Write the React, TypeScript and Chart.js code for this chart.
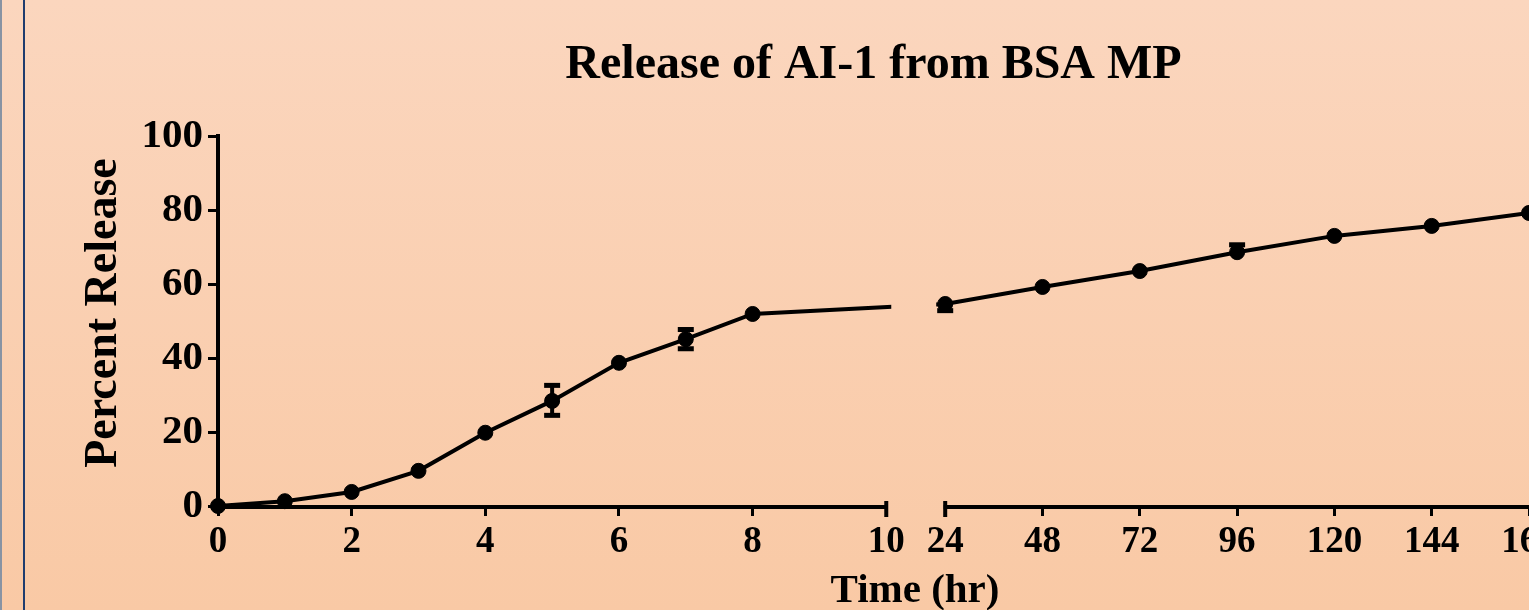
import { useEffect, useRef } from 'react';
import { Chart, registerables } from 'chart.js';

Chart.register(...registerables);

// ---- data ----
const HOURS = [0, 1, 2, 3, 4, 5, 6, 7, 8, 24, 48, 72, 96, 120, 144, 168];
const RELEASE = [0, 1.3, 3.8, 9.5, 19.8, 28.4, 38.7, 45.1, 51.9, 54.6, 59.2, 63.5, 68.6, 73.0, 75.7, 79.2];
const ERR_PLUS = [0, 0, 0, 0, 0, 4.2, 0, 2.6, 0, 0, 0, 0, 2.0, 0, 0, 0];
const ERR_MINUS = [0, 0, 0, 0, 0, 3.9, 0, 2.6, 0, 1.8, 0, 0, 0, 0, 0, 0];
const X_TICK_HOURS = [0, 2, 4, 6, 8, 10, 24, 48, 72, 96, 120, 144, 168];
const Y_TICKS = [0, 20, 40, 60, 80, 100];
const TITLE = 'Release of AI-1 from BSA MP';
const X_TITLE = 'Time (hr)';
const Y_TITLE = 'Percent Release';

// ---- broken axis definition ----
const SEG1_END = 10;
const SEG2_START = 24;
const SEG2_END = 168;
const GAP_UNITS = 0.882;
const SEG2_UNITS_PER_HOUR = 1.456 / 24;

function toAxis(h: number): number {
  return h <= SEG1_END ? h : SEG1_END + GAP_UNITS + (h - SEG2_START) * SEG2_UNITS_PER_HOUR;
}

const SERIF = "'Liberation Serif', 'Times New Roman', serif";

const backgroundPlugin = {
  id: 'bg',
  beforeDraw(chart: any) {
    const { ctx, width, height } = chart;
    ctx.save();
    const g = ctx.createLinearGradient(0, 0, 0, height);
    g.addColorStop(0, '#fbd6be');
    g.addColorStop(1, '#f9c9a5');
    ctx.fillStyle = g;
    ctx.fillRect(0, 0, width, height);
    ctx.fillStyle = '#8893a3';
    ctx.fillRect(0, 0, 2, height);
    ctx.fillStyle = '#1f3c6e';
    ctx.fillRect(23, 0, 2, height);
    ctx.restore();
  },
};

const gapClipPlugin = {
  id: 'gapClip',
  beforeDatasetsDraw(chart: any) {
    const { ctx, width, height } = chart;
    const xs = chart.scales.x;
    const a = xs.getPixelForValue(toAxis(SEG1_END)) + 5;
    const b = xs.getPixelForValue(toAxis(SEG2_START)) - 9;
    ctx.save();
    ctx.beginPath();
    ctx.rect(0, 0, a, height);
    ctx.rect(b, 0, width - b, height);
    ctx.clip();
  },
  afterDatasetsDraw(chart: any) {
    chart.ctx.restore();
  },
};

const errorBarPlugin = {
  id: 'errorBars',
  afterDatasetsDraw(chart: any) {
    const { ctx } = chart;
    const ys = chart.scales.y;
    const meta = chart.getDatasetMeta(0);
    ctx.save();
    ctx.strokeStyle = '#000';
    ctx.fillStyle = '#000';
    HOURS.forEach((_, i) => {
      const pt = meta.data[i];
      if (!pt) return;
      const x = pt.x;
      const yc = ys.getPixelForValue(RELEASE[i]);
      const parts: number[] = [];
      if (ERR_PLUS[i] > 0) parts.push(ys.getPixelForValue(RELEASE[i] + ERR_PLUS[i]));
      if (ERR_MINUS[i] > 0) parts.push(ys.getPixelForValue(RELEASE[i] - ERR_MINUS[i]));
      parts.forEach((ye) => {
        ctx.lineWidth = 4;
        ctx.beginPath();
        ctx.moveTo(x, yc);
        ctx.lineTo(x, ye);
        ctx.stroke();
        ctx.fillRect(x - 8, ye - 2.5, 16, 5);
      });
    });
    ctx.restore();
  },
};

const axisPlugin = {
  id: 'brokenAxis',
  afterDraw(chart: any) {
    const { ctx, chartArea } = chart;
    const xs = chart.scales.x;
    const y = chartArea.bottom + 1;
    const p0 = xs.getPixelForValue(0);
    const p1 = xs.getPixelForValue(toAxis(SEG1_END));
    const p2 = xs.getPixelForValue(toAxis(SEG2_START));
    const p3 = xs.getPixelForValue(toAxis(SEG2_END));
    ctx.save();
    ctx.strokeStyle = '#000';
    ctx.lineWidth = 4;
    ctx.beginPath();
    ctx.moveTo(p0 - 2, y);
    ctx.lineTo(p1 + 1.5, y);
    ctx.moveTo(p2 - 1.5, y);
    ctx.lineTo(Math.max(p3, chartArea.right), y);
    ctx.stroke();
    ctx.beginPath();
    ctx.moveTo(p1, y - 6);
    ctx.lineTo(p1, y + 10);
    ctx.moveTo(p2, y - 6);
    ctx.lineTo(p2, y + 10);
    ctx.stroke();
    ctx.fillStyle = '#000';
    ctx.font = `bold 41px ${SERIF}`;
    ctx.textAlign = 'center';
    ctx.textBaseline = 'alphabetic';
    ctx.fillText(X_TITLE, 915, 602);
    // y-axis title
    ctx.save();
    ctx.translate(116, 313);
    ctx.rotate(-Math.PI / 2);
    ctx.font = `bold 46px ${SERIF}`;
    ctx.textAlign = 'center';
    ctx.textBaseline = 'alphabetic';
    ctx.fillText(Y_TITLE, 0, 0);
    ctx.restore();
    ctx.restore();
  },
};

export default function App() {
  const ref = useRef<HTMLCanvasElement>(null);
  useEffect(() => {
    document.body.style.margin = '0';
    const canvas = ref.current;
    if (!canvas) return;
    const chart = new Chart(canvas, {
      type: 'line',
      data: {
        datasets: [
          {
            data: HOURS.map((h, i) => ({ x: toAxis(h), y: RELEASE[i] })),
            borderColor: '#000',
            borderWidth: 4,
            pointRadius: 7.5,
            pointBackgroundColor: '#000',
            pointBorderColor: '#000',
            pointBorderWidth: 1,
            tension: 0,
            clip: false as any,
          },
        ],
      },
      options: {
        animation: false,
        responsive: false,
        layout: { padding: 0, autoPadding: false },
        plugins: {
          legend: { display: false },
          tooltip: { enabled: false },
          title: {
            display: true,
            text: TITLE,
            fullSize: false,
            color: '#000',
            font: { family: SERIF, size: 48, weight: 'bold', lineHeight: 1 },
            padding: { top: 42, bottom: 46 },
          },
        },
        scales: {
          x: {
            type: 'linear',
            min: 0,
            max: toAxis(SEG2_END),
            afterBuildTicks: (s: any) => {
              s.ticks = X_TICK_HOURS.map((h) => ({ value: toAxis(h) }));
            },
            afterFit: (s: any) => {
              s.height = 104;
              s.paddingLeft = 0;
              s.paddingRight = 0;
            },
            ticks: {
              autoSkip: false,
              maxRotation: 0,
              minRotation: 0,
              padding: 4,
              color: '#000',
              font: { family: SERIF, size: 37, weight: 'bold' },
              callback: (_v: any, i: number) => String(X_TICK_HOURS[i]),
            },
            grid: {
              drawOnChartArea: false,
              drawTicks: true,
              tickLength: 10,
              tickWidth: 3,
              tickColor: '#000',
              color: '#000',
            },
            border: { display: false },
          },
          y: {
            type: 'linear',
            min: 0,
            max: 100,
            afterBuildTicks: (s: any) => {
              s.ticks = Y_TICKS.map((v) => ({ value: v }));
            },
            afterFit: (s: any) => {
              s.width = 218;
              s.paddingTop = 0;
              s.paddingBottom = 0;
            },
            ticks: {
              padding: 5,
              color: '#000',
              font: { family: SERIF, size: 41, weight: 'bold' },
            },
            grid: {
              drawOnChartArea: false,
              drawTicks: true,
              tickLength: 10,
              tickWidth: 3,
              tickColor: '#000',
              color: '#000',
            },
            border: { display: true, color: '#000', width: 4 },
            title: { display: false },
          },
        },
      } as any,
      plugins: [backgroundPlugin, gapClipPlugin, errorBarPlugin, axisPlugin],
    });
    return () => chart.destroy();
  }, []);
  return (
    <div style={{ position: 'absolute', left: 0, top: 0, width: 1529, height: 610, overflow: 'hidden' }}>
      <canvas ref={ref} width={1529} height={610} style={{ display: 'block' }} />
    </div>
  );
}
